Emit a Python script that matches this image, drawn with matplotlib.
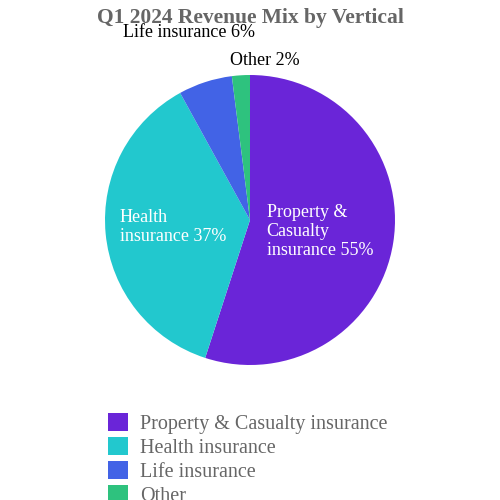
import numpy as np
import matplotlib
matplotlib.use("Agg")
import matplotlib.pyplot as plt

plt.rcParams['font.family'] = 'serif'
plt.rcParams['font.serif'] = ['Liberation Serif', 'DejaVu Serif']

categories = ['Property & Casualty insurance', 'Health insurance', 'Life insurance', 'Other']
short_labels = ['Property &\nCasualty\ninsurance', 'Health\ninsurance', 'Life insurance', 'Other']
shares = [55, 37, 6, 2]
colors = ['#6A25D8', '#22C8CE', '#4263E6', '#2EC27E']

fig = plt.figure(figsize=(5, 5), dpi=100)
ax = fig.add_axes([0.21, 0.27, 0.58, 0.58])
wedges, _ = ax.pie(shares, colors=colors, startangle=90, counterclock=False,
                   wedgeprops=dict(linewidth=0))
ax.set_xlim(-1, 1)
ax.set_ylim(-1, 1)
ax.set_aspect('equal')

# label placement: (radius, x shift, ha, color)
place = [(0.5, -0.38, 'left', 'white'), (0.52, -0.38, 'left', 'white'),
         (1.36, 0.0, 'center', 'black'), (1.1, 0.17, 'center', 'black')]
for w, lab, val, (r, dx, ha, c) in zip(wedges, short_labels, shares, place):
    ang = np.deg2rad((w.theta1 + w.theta2) / 2)
    txt = f'{lab} {val}%'
    ax.text(r * np.cos(ang) + dx, r * np.sin(ang), txt, ha=ha, va='center',
            color=c, fontsize=13, linespacing=1.15)

fig.suptitle('Q1 2024 Revenue Mix by Vertical', y=0.985, fontsize=15.5,
             fontweight='bold', color='#666666')
leg = fig.legend(wedges, categories, loc='upper left', bbox_to_anchor=(0.2, 0.19),
                 frameon=False, fontsize=14.5, handlelength=1.0, handleheight=1.0,
                 handletextpad=0.6, labelspacing=0.15, borderaxespad=0)
for t in leg.get_texts():
    t.set_color('#666666')

fig.savefig('out.png', dpi=100)
